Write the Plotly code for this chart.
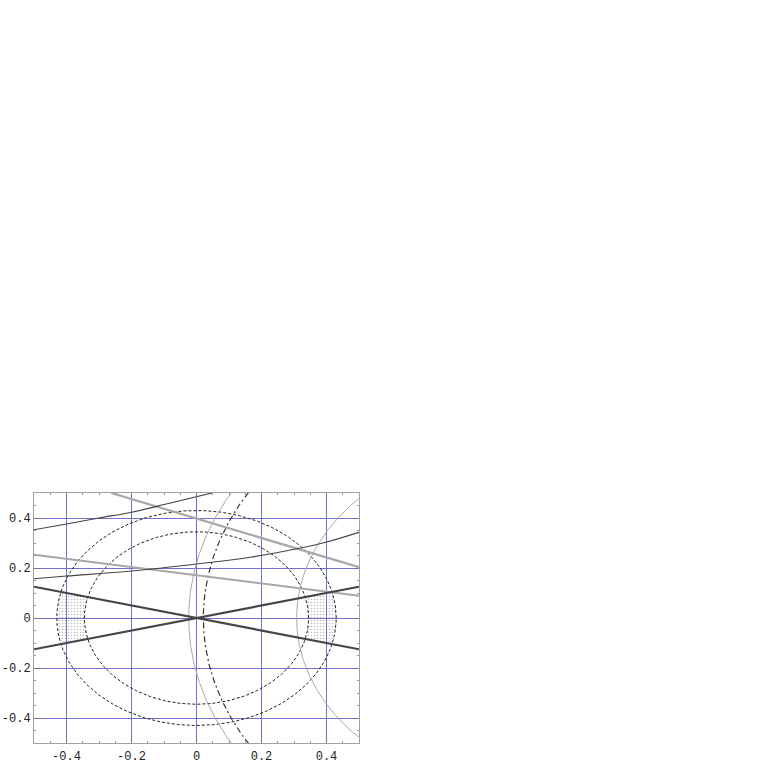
import numpy as np
import plotly.graph_objects as go

# ---- data ----
ring_radii = [0.345, 0.43]            # dashed circles centred at origin
cross_slopes = [0.25, -0.25]          # thick dark lines through origin
arc_center = [1.0, 0.0]
arc_radii_gray = [1.024, 0.692]       # thin light-gray arcs
arc_radius_dashdot = [0.979]          # dash-dot arc

grayline1_x = [-0.262, 0.5]
grayline1_y = [0.5, 0.203]
grayline2_x = [-0.5, 0.5]
grayline2_y = [0.253, 0.089]

curveA_x = [-0.5, -0.4, -0.3, -0.2, -0.08, 0.048]
curveA_y = [0.353, 0.376, 0.4, 0.423, 0.46, 0.5]
curveB_x = [-0.5, -0.4, -0.2, 0.0, 0.166, 0.32, 0.4, 0.5]
curveB_y = [0.157, 0.168, 0.188, 0.216, 0.243, 0.28, 0.304, 0.343]

tick_vals = [-0.4, -0.2, 0, 0.2, 0.4]
tick_text = ["-0.4", "-0.2", "0", "0.2", "0.4"]

fig = go.Figure()

# dotted sectors between the rings, inside the cross
theta = np.arctan(abs(cross_slopes[0]))
for base in [0.0, np.pi]:
    t = np.linspace(base - theta, base + theta, 40)
    xs = np.concatenate([ring_radii[1] * np.cos(t), ring_radii[0] * np.cos(t[::-1])])
    ys = np.concatenate([ring_radii[1] * np.sin(t), ring_radii[0] * np.sin(t[::-1])])
    fig.add_trace(go.Scatter(x=xs, y=ys, mode="lines", fill="toself",
                             line=dict(width=0), fillcolor="rgba(0,0,0,0)",
                             fillpattern=dict(shape=".", size=3, solidity=0.22,
                                              fgcolor="#7a7a7a", bgcolor="rgba(0,0,0,0)"),
                             hoverinfo="skip"))

# dashed circles
t = np.linspace(0, 2 * np.pi, 400)
for r in ring_radii:
    fig.add_trace(go.Scatter(x=r * np.cos(t), y=r * np.sin(t), mode="lines",
                             line=dict(color="#222222", width=1, dash="3px,2px")))

# arcs centred at (1,0)
ta = np.linspace(np.pi / 2, 3 * np.pi / 2, 600)
for r in arc_radii_gray:
    fig.add_trace(go.Scatter(x=arc_center[0] + r * np.cos(ta), y=arc_center[1] + r * np.sin(ta),
                             mode="lines", line=dict(color="#aaaaaa", width=1)))
for r in arc_radius_dashdot:
    fig.add_trace(go.Scatter(x=arc_center[0] + r * np.cos(ta), y=arc_center[1] + r * np.sin(ta),
                             mode="lines", line=dict(color="#333333", width=1.2, dash="6px,3px,2px,3px")))

# gray thick lines
fig.add_trace(go.Scatter(x=grayline1_x, y=grayline1_y, mode="lines",
                         line=dict(color="#a8a8a8", width=2.2)))
fig.add_trace(go.Scatter(x=grayline2_x, y=grayline2_y, mode="lines",
                         line=dict(color="#a8a8a8", width=2.2)))

# dark thin curves
fig.add_trace(go.Scatter(x=curveA_x, y=curveA_y, mode="lines",
                         line=dict(color="#444444", width=1.2, shape="spline")))
fig.add_trace(go.Scatter(x=curveB_x, y=curveB_y, mode="lines",
                         line=dict(color="#444444", width=1.2, shape="spline")))

# thick dark cross lines
xl = np.array([-0.5, 0.5])
for s in cross_slopes:
    fig.add_trace(go.Scatter(x=xl, y=s * xl, mode="lines",
                             line=dict(color="#444444", width=2.2)))

axis_common = dict(
    range=[-0.5, 0.5], tickvals=tick_vals, ticktext=tick_text,
    showgrid=True, gridcolor="rgb(112,112,208)", gridwidth=1, zeroline=False,
    showline=True, linecolor="#a0a0a0", linewidth=1, mirror="ticks",
    ticks="inside", ticklen=4, tickcolor="#777777", tickwidth=1,
    minor=dict(dtick=0.05, ticks="inside", ticklen=2, tickcolor="#999999", showgrid=False),
    tickfont=dict(family="Liberation Mono, Courier New, monospace", size=12, color="#222222"),
    fixedrange=True, automargin=False,
)

fig.update_layout(
    width=763, height=763,
    margin=dict(l=34, r=404, t=493, b=20, autoexpand=False),
    paper_bgcolor="white", plot_bgcolor="white",
    showlegend=False,
    xaxis=dict(**axis_common, ticklabelstandoff=2),
    yaxis=dict(**axis_common, ticklabelstandoff=0),
)

fig.write_html("out.html",
               config={"displayModeBar": False},
               post_script="document.body.style.margin='0px';document.body.style.overflow='hidden';")
